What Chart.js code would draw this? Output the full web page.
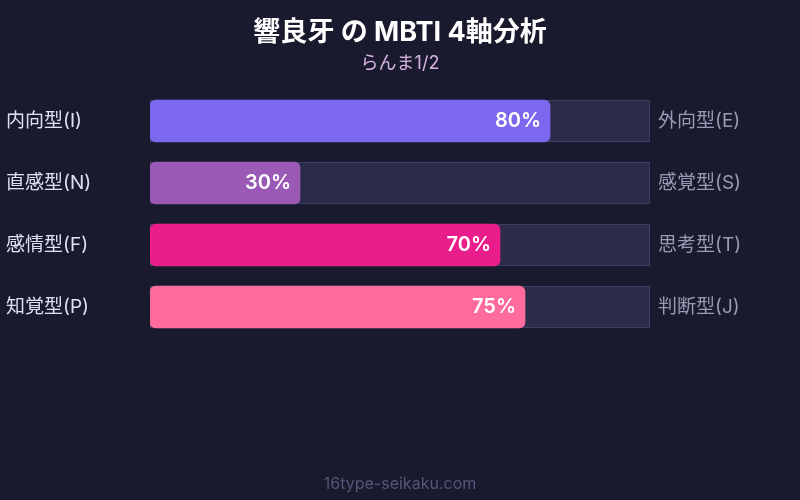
<!DOCTYPE html>
<html>
<head>
<meta charset="utf-8">
<script src="https://cdn.jsdelivr.net/npm/chart.js@4"></script>
<style>
  html, body { margin: 0; padding: 0; background: #1a1a2e; }
  #wrap { width: 800px; height: 500px; }
</style>
</head>
<body>
<div id="wrap"><canvas id="c" width="800" height="500"></canvas></div>
<script>
const titleText = '響良牙 の MBTI 4軸分析';
const subtitleText = 'らんま1/2';
const footerText = '16type-seikaku.com';
const leftLabels = ['内向型(I)', '直感型(N)', '感情型(F)', '知覚型(P)'];
const rightLabels = ['外向型(E)', '感覚型(S)', '思考型(T)', '判断型(J)'];
const values = [80, 30, 70, 75];
const trackValues = [100, 100, 100, 100];
const barColors = ['#7b68ee', '#9b59b6', '#e91e8c', '#ff6b9d'];

const FONT = "Inter, 'Noto Sans CJK JP', 'Noto Sans', sans-serif";

const textPlugin = {
  id: 'texts',
  beforeDraw(chart) {
    const ctx = chart.ctx;
    ctx.save();
    ctx.fillStyle = '#1a1a2e';
    ctx.fillRect(0, 0, chart.width, chart.height);
    ctx.restore();
  },
  afterDraw(chart) {
    const ctx = chart.ctx;
    ctx.save();
    ctx.textAlign = 'center';
    ctx.textBaseline = 'middle';
    ctx.fillStyle = '#ffffff';
    ctx.font = "bold 27px " + FONT;
    ctx.fillText(titleText, 400, 33);
    ctx.fillStyle = '#d8b4e2';
    ctx.font = "18px " + FONT;
    ctx.fillText(subtitleText, 400, 64);
    ctx.fillStyle = '#55557a';
    ctx.font = "16px " + FONT;
    ctx.fillText(footerText, 400, 484);

    const meta = chart.getDatasetMeta(1);
    ctx.fillStyle = '#ffffff';
    ctx.font = "600 20px " + FONT;
    ctx.textAlign = 'right';
    meta.data.forEach((bar, i) => {
      ctx.fillText(values[i] + '%', bar.x - 9, bar.y);
    });
    ctx.restore();
  }
};

new Chart(document.getElementById('c'), {
  type: 'bar',
  data: {
    labels: leftLabels,
    datasets: [
      {
        data: trackValues,
        backgroundColor: '#2d2b4a',
        borderColor: '#45436a',
        borderWidth: 1,
        borderSkipped: false,
        borderRadius: 0,
        barThickness: 42,
        grouped: false,
        order: 2
      },
      {
        data: values,
        backgroundColor: barColors,
        borderWidth: 0,
        borderSkipped: false,
        borderRadius: 6,
        barThickness: 42,
        grouped: false,
        order: 1
      }
    ]
  },
  options: {
    indexAxis: 'y',
    responsive: false,
    animation: false,
    devicePixelRatio: 1,
    layout: { padding: { top: 90, bottom: 162, left: 6, right: 0 } },
    plugins: {
      legend: { display: false },
      tooltip: { enabled: false },
      title: { display: false }
    },
    scales: {
      x: {
        min: 0, max: 100,
        display: false
      },
      y: {
        position: 'left',
        grid: { display: false, drawTicks: false },
        border: { display: false },
        ticks: {
          crossAlign: 'far',
          padding: 0,
          color: '#e0e0f0',
          font: { size: 19, family: FONT }
        },
        afterFit(scale) { scale.width = 144; }
      },
      y2: {
        type: 'category',
        labels: rightLabels,
        position: 'right',
        offset: true,
        grid: { display: false, drawTicks: false },
        border: { display: false },
        ticks: {
          padding: 8,
          color: '#9a9ab4',
          font: { size: 19, family: FONT }
        },
        afterFit(scale) { scale.width = 150; }
      }
    }
  },
  plugins: [textPlugin]
});
</script>
</body>
</html>
